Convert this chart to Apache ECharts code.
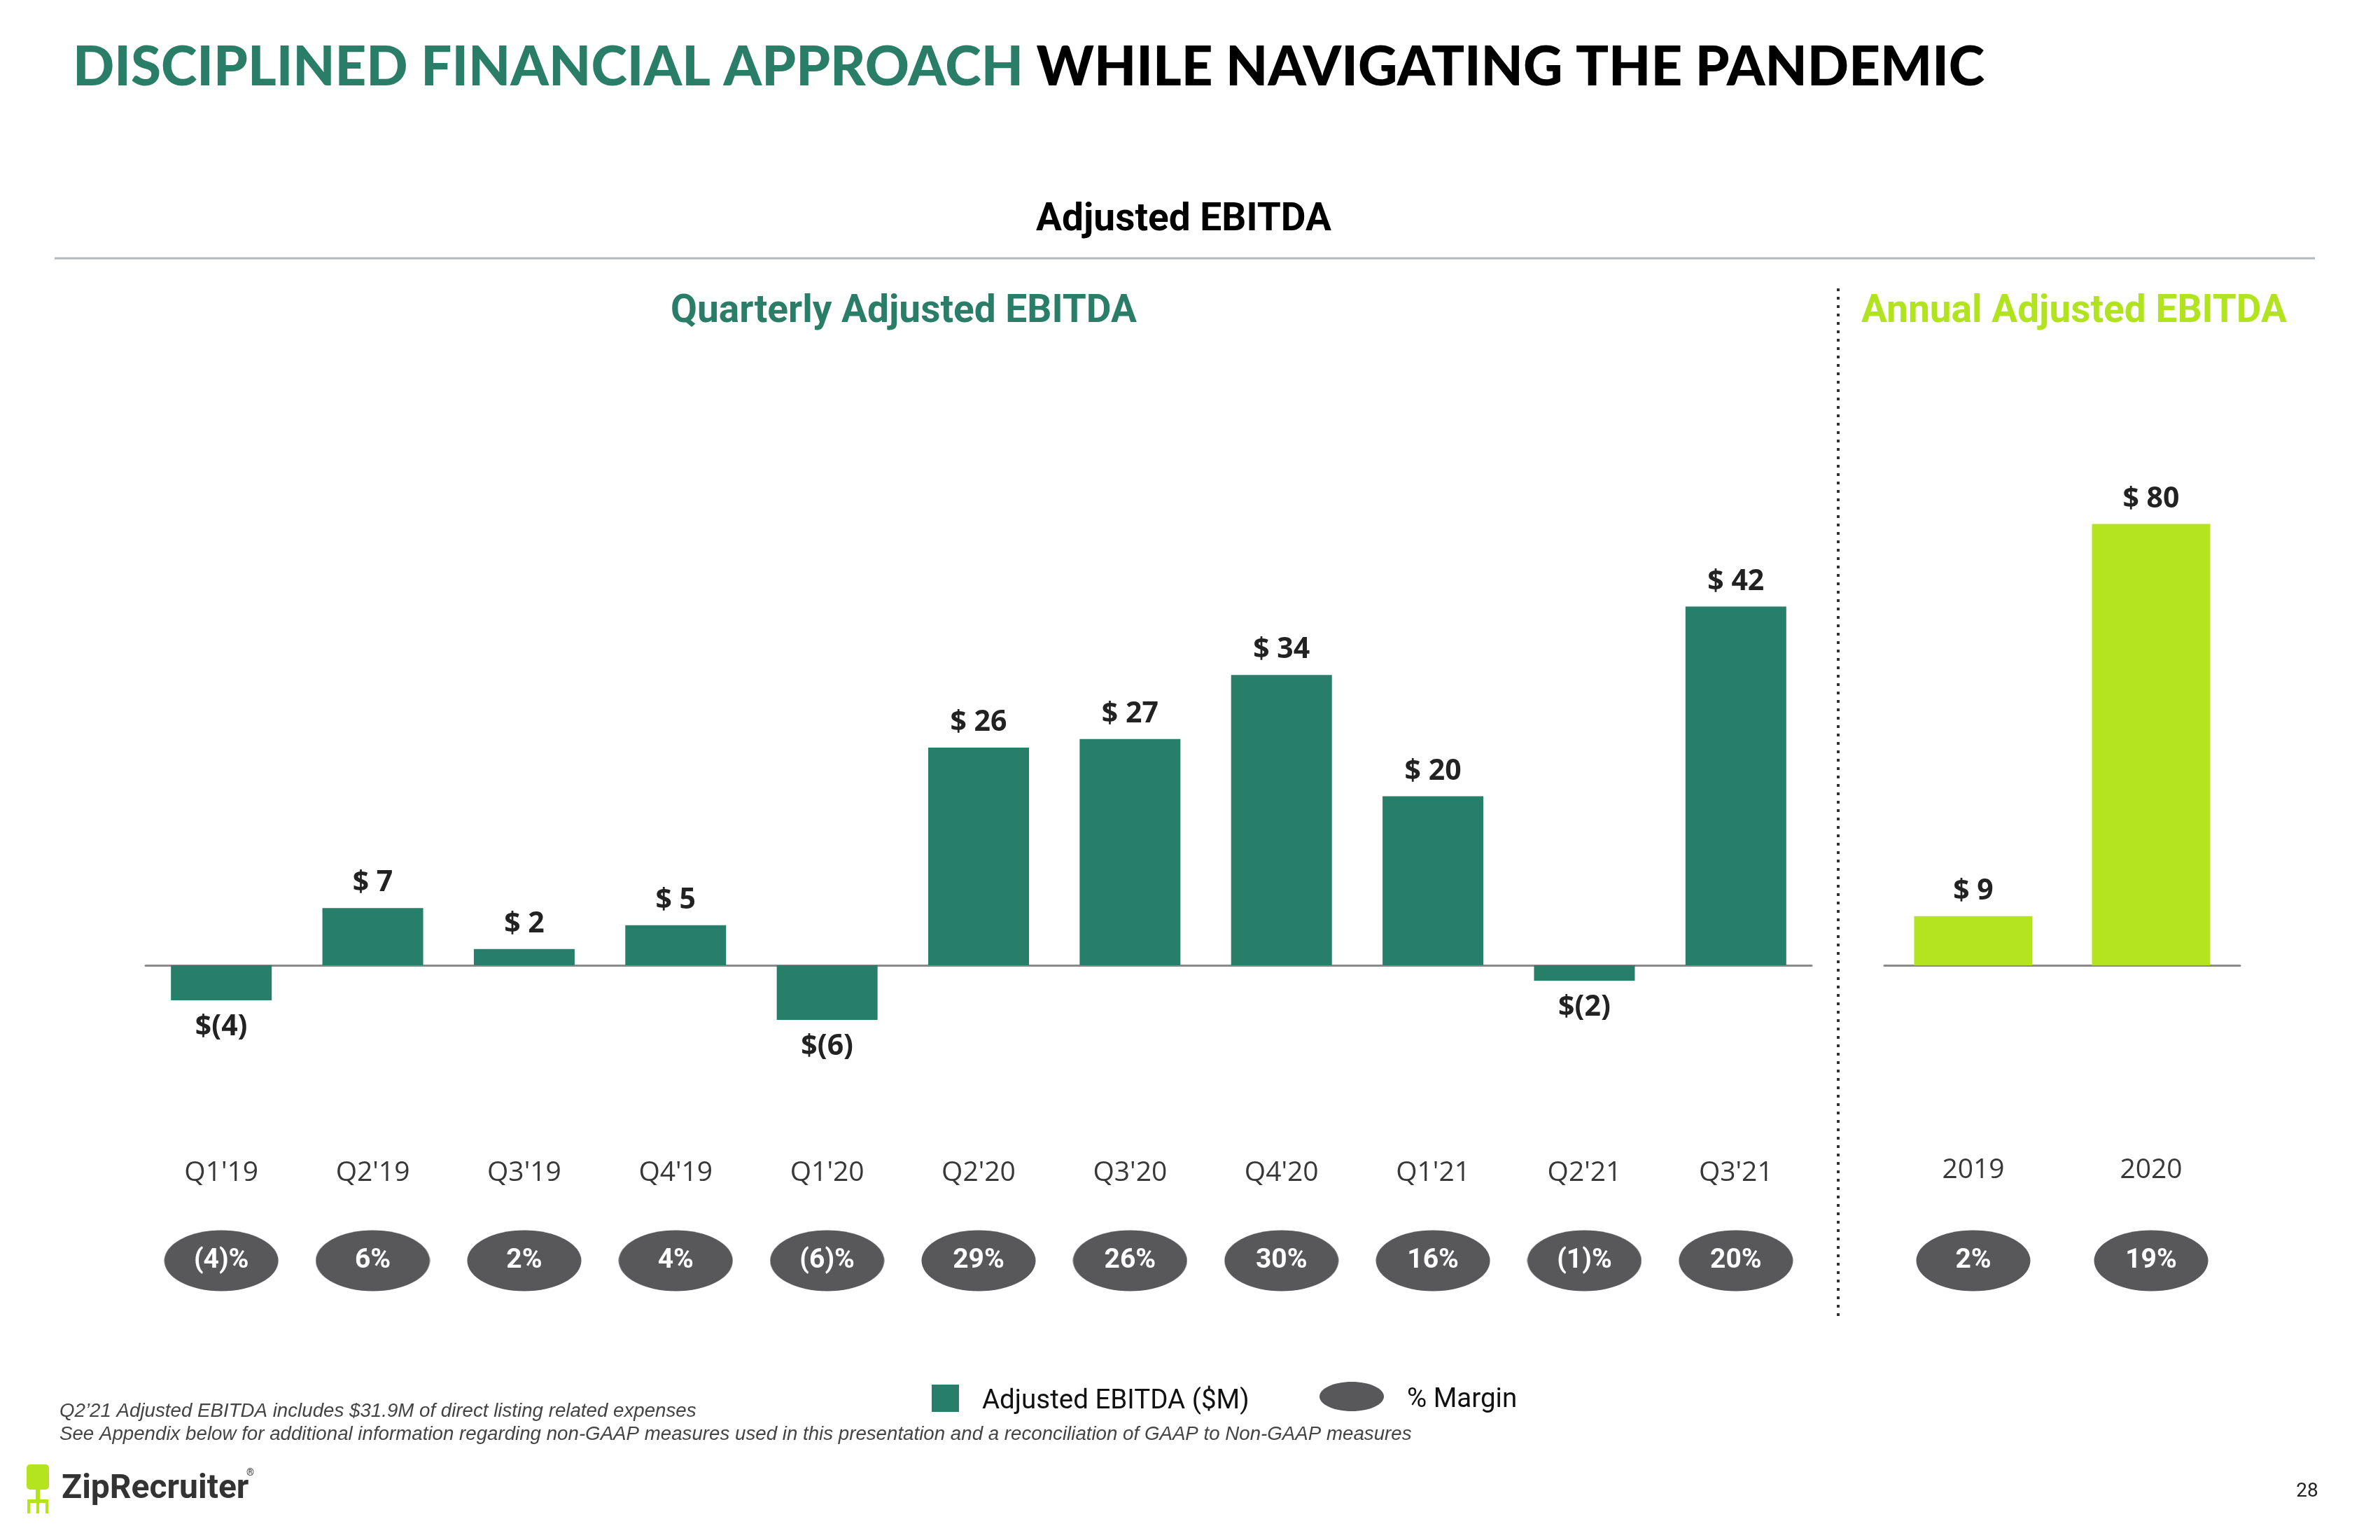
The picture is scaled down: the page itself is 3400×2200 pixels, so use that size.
<!DOCTYPE html>
<html><head><meta charset="utf-8">
<script src="https://cdn.jsdelivr.net/npm/echarts@6/dist/echarts.min.js"></script>
<style>html,body{margin:0;padding:0;background:#fff}#c{width:3400px;height:2200px}</style>
</head><body><div id="c"></div>
<script>
// ---- data ($M; labels show rounded values) ----
const quarters = ["Q1'19","Q2'19","Q3'19","Q4'19","Q1'20","Q2'20","Q3'20","Q4'20","Q1'21","Q2'21","Q3'21"];
const quarterlyEbitda = [-4.1, 6.7, 1.9, 4.7, -6.4, 25.5, 26.5, 34, 19.8, -1.8, 42];
const quarterlyMargin = ["(4)%","6%","2%","4%","(6)%","29%","26%","30%","16%","(1)%","20%"];
const years = ["2019","2020"];
const annualEbitda = [8.9, 80];
const annualMargin = ["2%","19%"];

// ---- styles ----
const GREEN = '#277e69', LIME = '#b4e420', PILL = '#58585a';
function ellipseImg(w, h, color) {
  const c = document.createElement('canvas'); c.width = w; c.height = h;
  const g = c.getContext('2d'); g.fillStyle = color; g.beginPath();
  g.ellipse(w/2, h/2, w/2 - 0.5, h/2 - 0.5, 0, 0, Math.PI*2); g.fill(); return c;
}
const pillImg = ellipseImg(164, 88, PILL);
const fmtMoney = v => { const r = Math.round(Math.abs(v)); return v < 0 ? '$(' + r + ')' : '$ ' + r; };
const labelFont = {fontFamily: "'Open Sans', sans-serif", fontWeight: 'bold', fontSize: 41, color: '#222'};

function barData(arr) {
  return arr.map(v => ({value: v, label: {position: v < 0 ? 'bottom' : 'top', distance: v < 0 ? 18 : 15}}));
}
function lineAxis(gridIndex, data) {
  return {type: 'category', gridIndex, data, position: 'bottom',
    axisLine: {show: true, onZero: true, lineStyle: {color: '#8a8a8a', width: 3}},
    axisTick: {show: false}, axisLabel: {show: false}};
}
function labelAxis(gridIndex, data, margin) {
  return {type: 'category', gridIndex, data, position: 'bottom',
    axisLine: {show: false, onZero: false}, axisTick: {show: false},
    axisLabel: {interval: 0, margin, fontFamily: "'Open Sans', sans-serif", fontSize: 39, color: '#383838'}};
}
function pillAxis(gridIndex, data, margin) {
  return {type: 'category', gridIndex, data, position: 'bottom',
    axisLine: {show: false, onZero: false}, axisTick: {show: false},
    axisLabel: {interval: 0, margin, formatter: v => '{p|' + v + '}',
      rich: {p: {backgroundColor: {image: pillImg}, width: 164, height: 88, lineHeight: 88,
        align: 'center', verticalAlign: 'middle', color: '#fff', fontFamily: 'Roboto, sans-serif',
        fontWeight: 'bold', fontSize: 39}}}};
}

const pq = 12.2, pa = 7.88, zeroY = 1379;
const qBottom = zeroY + 10*pq, aBottom = zeroY + 15*pa;
const option = {
  animation: false,
  backgroundColor: '#fff',
  grid: [
    {left: 208, width: 2380, top: zeroY - 50*pq, height: 60*pq},
    {left: 2692, width: 508, top: zeroY - 100*pa, height: 115*pa}
  ],
  xAxis: [
    lineAxis(0, quarters), labelAxis(0, quarters, 1656 - qBottom), pillAxis(0, quarterlyMargin, 1757 - qBottom),
    lineAxis(1, years), labelAxis(1, years, 1652 - aBottom), pillAxis(1, annualMargin, 1757 - aBottom)
  ],
  yAxis: [
    {type: 'value', gridIndex: 0, min: -10, max: 50, show: false, splitLine: {show: false}},
    {type: 'value', gridIndex: 1, min: -15, max: 100, show: false, splitLine: {show: false}}
  ],
  series: [
    {type: 'bar', name: 'Adjusted EBITDA ($M)', xAxisIndex: 0, yAxisIndex: 0, barWidth: 144,
     itemStyle: {color: GREEN}, data: barData(quarterlyEbitda),
     label: Object.assign({show: true, formatter: p => fmtMoney(p.value)}, labelFont)},
    {type: 'bar', name: 'Annual Adjusted EBITDA', xAxisIndex: 3, yAxisIndex: 1, barWidth: 169,
     itemStyle: {color: LIME}, data: barData(annualEbitda),
     label: Object.assign({show: true, formatter: p => fmtMoney(p.value)}, labelFont)}
  ],
  graphic: [
    {type: 'text', left: 104, top: 58, style: {
      text: '{a|DISCIPLINED FINANCIAL APPROACH} {b|WHILE NAVIGATING THE PANDEMIC}',
      rich: {a: {fontFamily: 'Lato, sans-serif', fontWeight: 900, fontSize: 78, fill: '#2a7d67'},
             b: {fontFamily: 'Lato, sans-serif', fontWeight: 900, fontSize: 78, fill: '#000'}},
      font: "900 78px Lato"}},
    {type: 'text', x: 1691, y: 315, style: {text: 'Adjusted EBITDA', textAlign: 'center', textVerticalAlign: 'middle',
      font: "bold 55px Roboto", fill: '#000'}},
    {type: 'line', shape: {x1: 78, y1: 369, x2: 3307, y2: 369}, style: {stroke: '#b3b6bb', lineWidth: 3}},
    {type: 'text', x: 1291, y: 446, style: {text: 'Quarterly Adjusted EBITDA', textAlign: 'center', textVerticalAlign: 'middle',
      font: "bold 55px Roboto", fill: '#2a7d67'}},
    {type: 'text', x: 2963, y: 446, style: {text: 'Annual Adjusted EBITDA', textAlign: 'center', textVerticalAlign: 'middle',
      font: "bold 55px Roboto", fill: '#b2e31f'}},
    {type: 'line', shape: {x1: 2626, y1: 412, x2: 2626, y2: 1884}, style: {stroke: '#333', lineWidth: 4, lineDash: [4, 8]}},
    // legend
    {type: 'rect', shape: {x: 1331, y: 1978, width: 39, height: 39}, style: {fill: GREEN}},
    {type: 'text', x: 1403, y: 2002, style: {text: 'Adjusted EBITDA ($M)', textVerticalAlign: 'middle', font: "38.5px Roboto", fill: '#111'}},
    {type: 'ellipse', shape: {cx: 1931, cy: 1995, rx: 46, ry: 21}, style: {fill: PILL}},
    {type: 'text', x: 2010, y: 2000, style: {text: '% Margin', textVerticalAlign: 'middle', font: "38.5px Roboto", fill: '#111'}},
    // footnotes
    {type: 'text', x: 85, y: 2016, style: {text: "Q2’21 Adjusted EBITDA includes $31.9M of direct listing related expenses",
      textVerticalAlign: 'middle', font: "italic 27.7px 'Liberation Sans', Arial, sans-serif", fill: '#444'}},
    {type: 'text', x: 85, y: 2049, style: {text: "See Appendix below for additional information regarding non-GAAP measures used in this presentation and a reconciliation of GAAP to Non-GAAP measures",
      textVerticalAlign: 'middle', font: "italic 27.7px 'Liberation Sans', Arial, sans-serif", fill: '#444'}},
    // logo
    {type: 'rect', shape: {x: 38, y: 2092, width: 32, height: 36, r: 5}, style: {fill: LIME}},
    {type: 'rect', shape: {x: 51, y: 2126, width: 6, height: 18}, style: {fill: LIME}},
    {type: 'rect', shape: {x: 39, y: 2142, width: 30, height: 5}, style: {fill: LIME}},
    {type: 'rect', shape: {x: 39, y: 2142, width: 4, height: 20}, style: {fill: LIME}},
    {type: 'rect', shape: {x: 65, y: 2142, width: 4, height: 20}, style: {fill: LIME}},
    {type: 'rect', shape: {x: 52, y: 2142, width: 4, height: 20}, style: {fill: LIME}},
    {type: 'text', x: 88, y: 2128, style: {text: 'ZipRecruiter', textVerticalAlign: 'middle', font: "bold 48px Roboto", fill: '#333'}},
    {type: 'text', x: 352, y: 2104, style: {text: '®', textVerticalAlign: 'middle', font: "14px Roboto", fill: '#333'}},
    {type: 'text', x: 3296, y: 2131, style: {text: '28', textAlign: 'center', textVerticalAlign: 'middle', font: "28px Roboto", fill: '#222'}}
  ]
};
const chart = echarts.init(document.getElementById('c'), null, {renderer: 'canvas'});
chart.setOption(option);
</script></body></html>
